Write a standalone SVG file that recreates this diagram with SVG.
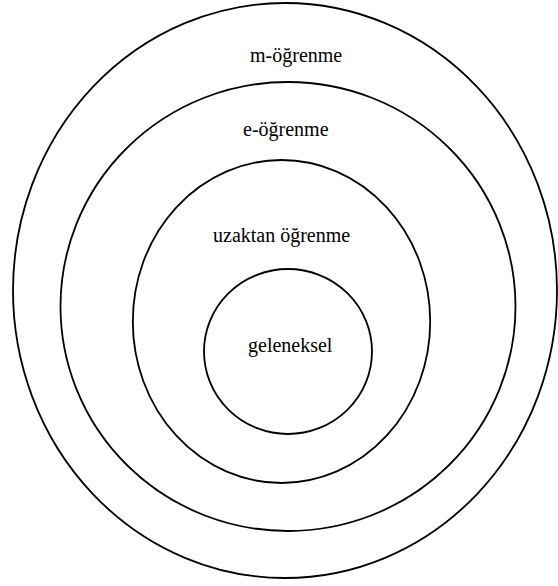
<svg xmlns="http://www.w3.org/2000/svg" width="558" height="586" viewBox="0 0 558 586">
<style>
.ring{fill:none;stroke:#000;stroke-width:1.8}
</style>
<rect width="558" height="586" fill="#fff"/>
<g id="m-ogrenme">
<ellipse class="ring" cx="285" cy="290.5" rx="272" ry="287.5"/>
<text x="250" y="62" style="font-family:'Times New Roman','Liberation Serif',serif;font-size:20px">m-öğrenme</text>
</g>
<g id="e-ogrenme">
<ellipse class="ring" cx="288" cy="306.5" rx="227.5" ry="224.5"/>
<text x="243" y="136" style="font-family:'Times New Roman','Liberation Serif',serif;font-size:20px">e-öğrenme</text>
</g>
<g id="uzaktan-ogrenme">
<ellipse class="ring" cx="281.5" cy="321.5" rx="148.7" ry="161.5"/>
<text x="213" y="242" style="font-family:'Times New Roman','Liberation Serif',serif;font-size:20px">uzaktan öğrenme</text>
</g>
<g id="geleneksel">
<ellipse class="ring" cx="288" cy="351.5" rx="84" ry="82.5"/>
<text x="248" y="352" style="font-family:'Times New Roman','Liberation Serif',serif;font-size:20px">geleneksel</text>
</g>
<g id="connectors"/>
</svg>
